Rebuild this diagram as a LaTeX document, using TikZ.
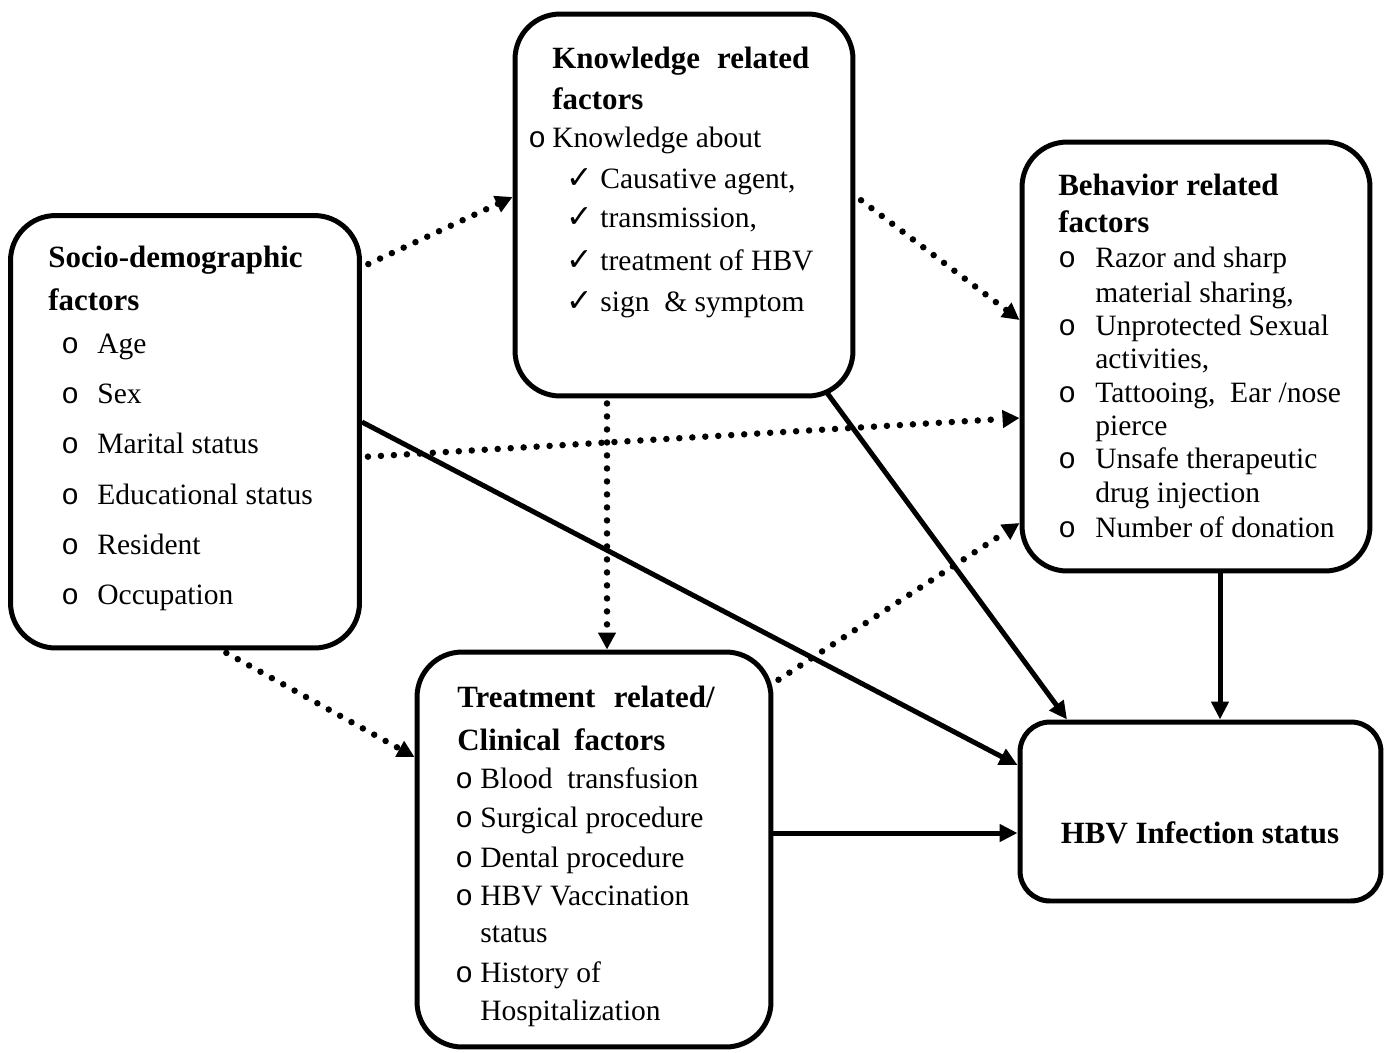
\documentclass[tikz,border=0pt]{standalone}
\usepackage{fontspec}
\setmainfont{Liberation Serif}
\setmonofont{Liberation Mono}
\newfontfamily\symfont{DejaVu Sans}
\usetikzlibrary{arrows.meta,calc}
\begin{document}
\begin{tikzpicture}[x=0.02cm,y=-0.02cm,
  box/.style={draw, line width=0.1cm, rounded corners=0.9cm, inner sep=0pt},
  txt/.style={anchor=base west, inner sep=0pt, font=\fontsize{16.8pt}{20pt}\selectfont},
  head/.style={anchor=base west, inner sep=0pt, font=\fontsize{17.6pt}{20pt}\selectfont\bfseries},
  bul/.style={anchor=base west, inner sep=0pt, font=\fontsize{16.8pt}{20pt}\ttfamily},
  chk/.style={anchor=base west, inner sep=0pt, font=\fontsize{18pt}{20pt}\symfont},
  solidarrow/.style={line width=0.1cm, -{Triangle[length=0.36cm,width=0.34cm]}},
  dotarrow/.style={line width=0.13cm, line cap=round, dash pattern=on 0pt off 0.26cm, -{Triangle[length=0.34cm,width=0.34cm]}},
]
\useasboundingbox (0,0) rectangle (1392,1052);

% boxes
\node[box, minimum width=6.98cm, minimum height=8.65cm] (socio) at (185,431.75) {};
\node[box, minimum width=6.76cm, minimum height=7.64cm] (know) at (684,205) {};
\node[box, minimum width=6.96cm, minimum height=8.58cm] (behav) at (1196,356.5) {};
\node[box, minimum width=7.08cm, minimum height=7.90cm] (treat) at (594,849.5) {};
\node[box, rounded corners=0.6cm, minimum width=7.22cm, minimum height=3.58cm] (hbv) at (1200.5,811.5) {};

% socio text
\node[head] (sh1) at (48,267) {Socio-demographic};
\node[head] (sh2) at (48,310) {factors};
\node[bul] (sb1) at (61,353) {o}; \node[txt] (st1) at (97,353) {Age};
\node[bul] (sb2) at (61,403) {o}; \node[txt] (st2) at (97,403) {Sex};
\node[bul] (sb3) at (61,453) {o}; \node[txt] (st3) at (97,453) {Marital status};
\node[bul] (sb4) at (61,504) {o}; \node[txt] (st4) at (97,504) {Educational status};
\node[bul] (sb5) at (61,554) {o}; \node[txt] (st5) at (97,554) {Resident};
\node[bul] (sb6) at (61,604) {o}; \node[txt] (st6) at (97,604) {Occupation};

% knowledge text
\node[head] (kh1) at (552,68) {Knowledge\hskip0.55em related};
\node[head] (kh2) at (552,109) {factors};
\node[bul] (kb1) at (528,147) {o}; \node[txt] (kt1) at (552,147) {Knowledge about};
\node[chk] (kc1) at (566,188) {✓}; \node[txt] (kt2) at (600,188) {Causative agent,};
\node[chk] (kc2) at (566,227) {✓}; \node[txt] (kt3) at (600,227) {transmission,};
\node[chk] (kc3) at (566,270) {✓}; \node[txt] (kt4) at (600,270) {treatment of HBV};
\node[chk] (kc4) at (566,311) {✓}; \node[txt] (kt5) at (600,311) {sign\ \ \&\ symptom};

% behavior text
\node[head] (bh1) at (1058,195) {Behavior related};
\node[head] (bh2) at (1058,232) {factors};
\node[bul] (bb1) at (1058,267) {o}; \node[txt] (bt1) at (1095,267) {Razor and sharp};
\node[txt] (bt2) at (1095,302) {material sharing,};
\node[bul] (bb2) at (1058,335) {o}; \node[txt] (bt3) at (1095,335) {Unprotected Sexual};
\node[txt] (bt4) at (1095,368) {activities,};
\node[bul] (bb3) at (1058,402) {o}; \node[txt] (bt5) at (1095,402) {Tattooing,\ \ Ear /nose};
\node[txt] (bt6) at (1095,435) {pierce};
\node[bul] (bb4) at (1058,468) {o}; \node[txt] (bt7) at (1095,468) {Unsafe therapeutic};
\node[txt] (bt8) at (1095,502) {drug injection};
\node[bul] (bb5) at (1058,537) {o}; \node[txt] (bt9) at (1095,537) {Number of donation};

% treatment text
\node[head] (th1) at (457,707) {Treatment\hskip0.6em related/};
\node[head] (th2) at (457,750) {Clinical\hskip0.45em factors};
\node[bul] (tb1) at (455,788) {o}; \node[txt] (tt1) at (480,788) {Blood\ \ transfusion};
\node[bul] (tb2) at (455,827) {o}; \node[txt] (tt2) at (480,827) {Surgical procedure};
\node[bul] (tb3) at (455,867) {o}; \node[txt] (tt3) at (480,867) {Dental procedure};
\node[bul] (tb4) at (455,905) {o}; \node[txt] (tt4) at (480,905) {HBV Vaccination};
\node[txt] (tt5) at (480,942) {status};
\node[bul] (tb5) at (455,982) {o}; \node[txt] (tt6) at (480,982) {History of};
\node[txt] (tt7) at (480,1020) {Hospitalization};

% hbv text
\node[anchor=base, inner sep=0pt, font=\fontsize{17.6pt}{20pt}\selectfont\bfseries] (ht) at (1200,843) {HBV Infection status};

% connectors
\draw[dotarrow, shorten <=0.14cm] (socio.east |- 0,267) -- (know.west |- 0,197);
\draw[dotarrow, shorten <=0.14cm] (know.east |- 0,196) -- (behav.west |- 0,320);
\draw[dotarrow, shorten <=0.12cm] (socio.east |- 0,457) -- (behav.west |- 0,418);
\draw[solidarrow] (socio.east |- 0,422) -- (hbv.west |- 0,765);
\draw[dotarrow, shorten <=0.1cm] (607,0 |- know.south) -- (607,0 |- treat.north);
\draw[solidarrow] ([yshift=0.14cm]826,0 |- know.south) -- (1067,0 |- hbv.north);
\draw[dotarrow, shorten <=0.1cm] (222,0 |- socio.south) -- (treat.west |- 0,757);
\draw[dotarrow, shorten <=0.12cm] (treat.east |- 0,683) -- (behav.west |- 0,523);
\draw[solidarrow] (treat.east |- 0,833) -- (hbv.west |- 0,833);
\draw[solidarrow] (1220,0 |- behav.south) -- (1220,0 |- hbv.north);
\end{tikzpicture}
\end{document}
